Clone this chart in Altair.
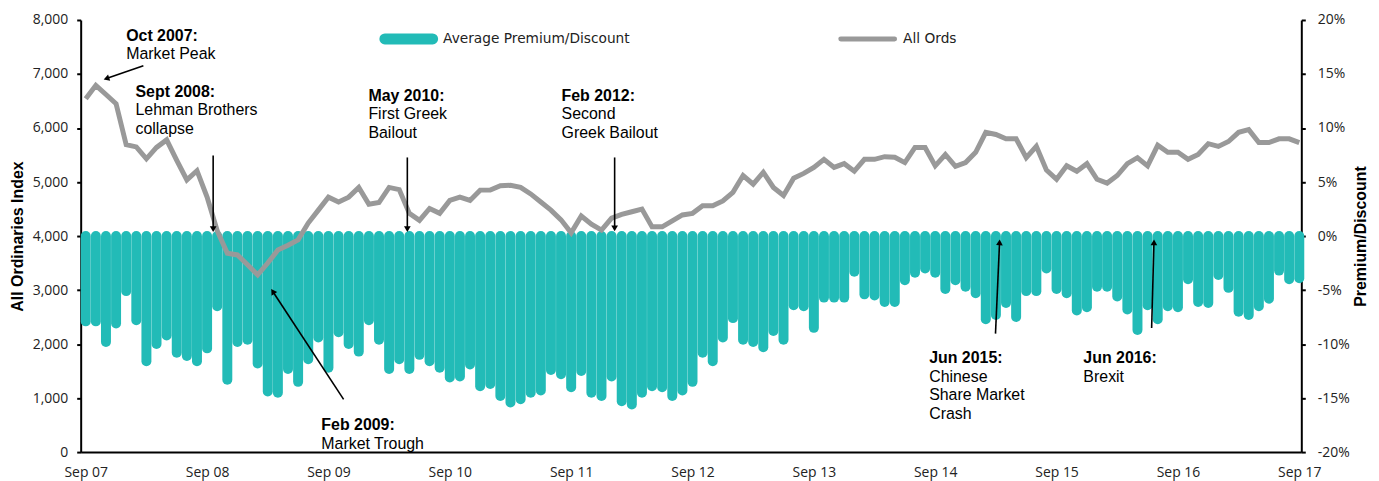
import math
import altair as alt
import pandas as pd

# ---------------- data ----------------
year_labels = ["Sep 07", "Sep 08", "Sep 09", "Sep 10", "Sep 11", "Sep 12",
               "Sep 13", "Sep 14", "Sep 15", "Sep 16", "Sep 17"]

# monthly All Ordinaries index, Sep 2007 .. Sep 2017
all_ords = [
    6540, 6790, 6620, 6450, 5690, 5650, 5430, 5640, 5780, 5400, 5040, 5210,
    4720, 4100, 3680, 3650, 3470, 3280, 3500, 3740, 3830, 3930, 4240, 4480,
    4720, 4630, 4720, 4900, 4590, 4620, 4900, 4860, 4420, 4290, 4510, 4420,
    4660, 4720, 4660, 4850, 4850, 4930, 4940, 4900, 4780, 4630, 4480, 4300,
    4060, 4370, 4220, 4110, 4330, 4400, 4450, 4500, 4170, 4170, 4280, 4390,
    4420, 4560, 4560, 4650, 4810, 5120, 4960, 5180, 4900, 4750, 5070, 5160,
    5270, 5420, 5270, 5340, 5200, 5420, 5420, 5470, 5460, 5360, 5640, 5640,
    5300, 5510, 5290, 5360, 5550, 5920, 5880, 5800, 5800, 5450, 5660, 5220,
    5050, 5300, 5200, 5340, 5050, 4980, 5120, 5340, 5450, 5300, 5680, 5550,
    5550, 5420, 5510, 5710, 5660, 5750, 5920, 5970, 5730, 5730, 5800, 5800,
    5730,
]

# monthly average premium/discount (%)
premium = [
    -7.9, -7.9, -9.8, -8.1, -5.1, -7.8, -11.6, -10.0, -9.2, -10.8, -11.1, -11.6,
    -10.4, -6.5, -13.3, -9.8, -9.6, -11.8, -14.4, -14.5, -12.3, -13.5, -11.4, -9.4,
    -12.2, -8.9, -10.0, -10.7, -7.8, -9.6, -12.3, -11.4, -12.3, -11.0, -11.6, -12.2,
    -13.1, -13.0, -11.9, -13.9, -13.7, -14.8, -15.4, -15.1, -14.5, -14.3, -12.4, -12.8,
    -14.0, -12.5, -14.5, -14.8, -13.0, -15.3, -15.6, -14.5, -13.9, -14.0, -14.8, -14.3,
    -13.5, -10.8, -11.6, -9.4, -7.6, -9.6, -9.8, -10.3, -8.8, -9.6, -6.4, -6.5,
    -8.5, -5.7, -5.7, -5.7, -3.3, -5.4, -5.5, -6.1, -6.1, -4.1, -3.4, -3.0,
    -3.4, -4.9, -4.1, -4.7, -5.3, -7.7, -7.3, -6.2, -7.5, -5.1, -5.1, -3.0,
    -4.9, -5.3, -6.9, -6.6, -4.7, -4.7, -5.6, -6.8, -8.7, -6.4, -7.7, -6.5,
    -6.6, -4.0, -6.1, -6.2, -3.6, -4.8, -7.0, -7.3, -6.5, -5.8, -3.2, -4.0,
    -3.9,
]
month_idx = list(range(len(all_ords)))

# annotations (month index / index level)
ann_titles = ["Oct 2007:", "Sept 2008:", "May 2010:", "Feb 2012:",
              "Feb 2009:", "Jun 2015:", "Jun 2016:"]
ann_bodies = ["Market Peak", "Lehman Brothers\ncollapse", "First Greek\nBailout",
              "Second\nGreek Bailout", "Market Trough",
              "Chinese\nShare Market\nCrash", "Brexit"]
ann_text_x = [4.0, 4.92, 27.95, 47.05, 23.3, 83.4, 98.65]
ann_text_y = [7722, 6690, 6616, 6616, 516, 1751, 1751]
arrow_tail_x = [5.7, 12.6, 31.8, 52.3, 25.5, 89.96, 105.4]
arrow_tail_y = [7151, 5492, 5455, 5455, 977, 2193, 2298]
arrow_tip_x = [1.67, 12.6, 31.8, 52.3, 18.28, 90.38, 105.64]
arrow_tip_y = [6893, 4055, 4055, 4070, 3035, 3957, 3957]

legend_labels = ["Average Premium/Discount", "All Ords"]

# ---------------- styling ----------------
TEAL = "#22bbb7"
GREY = "#999999"
W, H = 1226, 434
X_DOM = [-0.5, 120.2]
PXM = W / (X_DOM[1] - X_DOM[0])   # px per month
PXV = H / 8000.0                  # px per index point

# arrow heads: rotate triangles along arrow direction, pull center back from tip
head_x, head_y, head_ang = [], [], []
for tx, ty, hx, hy in zip(arrow_tail_x, arrow_tail_y, arrow_tip_x, arrow_tip_y):
    dxp = (hx - tx) * PXM
    dyp = -(hy - ty) * PXV
    L = math.hypot(dxp, dyp)
    ux, uy = dxp / L, dyp / L
    head_x.append(hx - 4 * ux / PXM)
    head_y.append(hy + 4 * uy / PXV)
    head_ang.append(math.degrees(math.atan2(dxp, -dyp)) % 360)

df = pd.DataFrame({"m": month_idx, "ords": all_ords, "prem": premium})
ann = pd.DataFrame({"title": ann_titles, "body": ann_bodies,
                    "tx": ann_text_x, "ty": ann_text_y})
arr = pd.DataFrame({"x": arrow_tail_x, "y": arrow_tail_y,
                    "x2": head_x, "y2": head_y, "ang": head_ang})

xscale = alt.Scale(domain=X_DOM, nice=False, zero=False)
yL = alt.Scale(domain=[0, 8000], nice=False, zero=False)
yR = alt.Scale(domain=[-20, 20], nice=False, zero=False)

label_arr = "[" + ",".join("'%s'" % s for s in year_labels) + "]"
x_axis = alt.Axis(values=list(range(0, 121, 12)),
                  labelExpr=label_arr + "[round(datum.value/12)]",
                  title=None, ticks=False, grid=False,
                  domainColor="black", domainWidth=2,
                  labelFont="Open Sans", labelFontSize=14, labelColor="#222222",
                  labelPadding=14, labelFlush=False)

def X(field):
    return alt.X(field, type="quantitative", scale=xscale, axis=x_axis)

bars = alt.Chart(df).mark_rule(color=TEAL, strokeWidth=10, strokeCap="round").encode(
    x=X("m"),
    y=alt.Y("prem:Q", scale=yR, axis=alt.Axis(
        orient="right", values=list(range(-20, 21, 5)),
        labelExpr="datum.value + '%'", grid=False,
        domainColor="black", domainWidth=2, tickColor="black", tickWidth=2, tickSize=4,
        labelFont="Open Sans", labelFontSize=14, labelColor="#222222", labelPadding=12,
        title="Premium/Discount", titleFont="Liberation Sans", titleFontSize=16,
        titleFontWeight="bold", titleColor="black", titleAngle=270,
        titleX=59, titleY=H / 2, titleAlign="center", titleBaseline="middle")),
    y2=alt.Y2(datum=0),
)

line = alt.Chart(df).mark_line(color=GREY, strokeWidth=5).encode(
    x=X("m"),
    y=alt.Y("ords:Q", scale=yL, axis=alt.Axis(
        orient="left", values=list(range(0, 8001, 1000)),
        labelExpr="format(datum.value, ',')", grid=False,
        domainColor="black", domainWidth=2, tickColor="black", tickWidth=2, tickSize=4,
        labelFont="Open Sans", labelFontSize=14, labelColor="#222222", labelPadding=9,
        title="All Ordinaries Index", titleFont="Liberation Sans", titleFontSize=16,
        titleFontWeight="bold", titleColor="black", titleAngle=270,
        titleX=-63, titleY=H / 2, titleAlign="center", titleBaseline="middle")),
)

arrow_lines = alt.Chart(arr).mark_rule(color="black", strokeWidth=1.6).encode(
    x=X("x"), y=alt.Y("y:Q", scale=yL, axis=None),
    x2="x2:Q", y2="y2:Q",
)
arrow_heads = alt.Chart(arr).mark_point(shape="triangle-up", filled=True, color="black",
                                        size=45, opacity=1).encode(
    x=X("x2"), y=alt.Y("y2:Q", scale=yL, axis=None),
    angle=alt.Angle("ang:Q", scale=None),
)

ann_title = alt.Chart(ann).mark_text(align="left", baseline="alphabetic", dy=6,
                                     font="Liberation Sans", fontSize=16,
                                     fontWeight="bold", color="black").encode(
    x=X("tx"), y=alt.Y("ty:Q", scale=yL, axis=None), text="title:N")
ann_body = alt.Chart(ann).mark_text(align="left", baseline="alphabetic", dy=24.5,
                                    lineBreak="\n", lineHeight=18.5,
                                    font="Liberation Sans", fontSize=16,
                                    color="black").encode(
    x=X("tx"), y=alt.Y("ty:Q", scale=yL, axis=None), text="body:N")

one = pd.DataFrame({"a": [0]})
leg_sw1 = alt.Chart(one).mark_rule(color=TEAL, strokeWidth=11, strokeCap="round").encode(
    x=alt.value(305.5), x2=alt.value(353.5), y=alt.value(19))
leg_sw2 = alt.Chart(one).mark_rule(color=GREY, strokeWidth=5, strokeCap="round").encode(
    x=alt.value(763.5), x2=alt.value(817.5), y=alt.value(19))
leg_t1 = alt.Chart(one).mark_text(align="left", baseline="middle", font="DejaVu Sans",
                                  fontSize=13.8, color="#222222").encode(
    x=alt.value(364), y=alt.value(19), text=alt.value(legend_labels[0]))
leg_t2 = alt.Chart(one).mark_text(align="left", baseline="middle", font="DejaVu Sans",
                                  fontSize=13.8, color="#222222").encode(
    x=alt.value(826), y=alt.value(19), text=alt.value(legend_labels[1]))

chart = alt.layer(
    bars, line, arrow_lines, arrow_heads, ann_title, ann_body,
    leg_sw1, leg_sw2, leg_t1, leg_t2,
).resolve_scale(y="independent").properties(
    width=W, height=H,
    autosize=alt.AutoSizeParams(type="none"),
    padding={"left": 73, "top": 11, "right": 70, "bottom": 30},
).configure_view(stroke=None)

chart.save("out.html", embed_options={"renderer": "svg", "actions": False})
